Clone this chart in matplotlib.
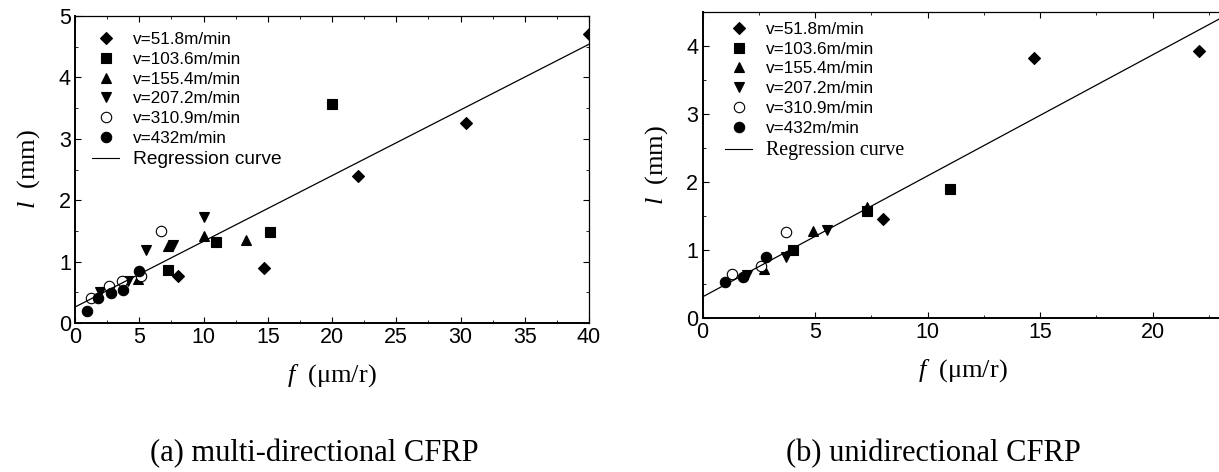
import matplotlib
matplotlib.use("Agg")
import matplotlib.pyplot as plt
from matplotlib.ticker import MultipleLocator
from matplotlib.lines import Line2D

plt.rcParams['font.family'] = ['Liberation Sans', 'DejaVu Sans']
plt.rcParams['mathtext.fontset'] = 'custom'
plt.rcParams['mathtext.rm'] = 'Liberation Serif'
plt.rcParams['mathtext.it'] = 'Liberation Serif:italic'

labels = ["v=51.8m/min", "v=103.6m/min", "v=155.4m/min",
          "v=207.2m/min", "v=310.9m/min", "v=432m/min"]
markers = ["D", "s", "^", "v", "o", "o"]
sizes = [6.3, 7, 7.5, 7.5, 7.5, 7.5]
faces = ["black", "black", "black", "black", "white", "black"]

# (a) multi-directional CFRP: feed f (um/r), length l (mm)
a_f = [
    [7.98, 14.7, 22.0, 30.4, 40.0],
    [7.25, 11.0, 15.2, 20.0],
    [4.92, 7.2, 10.0, 13.3],
    [1.94, 4.14, 5.51, 7.64, 10.0],
    [1.27, 2.64, 3.68, 5.13, 6.66],
    [0.91, 1.81, 2.80, 3.76, 5.0],
]
a_l = [
    [0.77, 0.90, 2.40, 3.25, 4.70],
    [0.87, 1.32, 1.48, 3.56],
    [0.72, 1.26, 1.41, 1.35],
    [0.51, 0.68, 1.19, 1.27, 1.72],
    [0.40, 0.61, 0.69, 0.76, 1.50],
    [0.20, 0.41, 0.49, 0.54, 0.85],
]
a_fit = [0.26, 0.107]   # intercept, slope

# (b) unidirectional CFRP
b_f = [
    [8.03, 14.74, 22.06],
    [4.0, 7.32, 11.0],
    [2.72, 4.89, 7.32],
    [1.96, 3.70, 5.51],
    [1.29, 2.58, 3.69],
    [0.99, 1.78, 2.81],
]
b_l = [
    [1.45, 3.82, 3.93],
    [1.00, 1.58, 1.90],
    [0.72, 1.28, 1.63],
    [0.63, 0.90, 1.29],
    [0.64, 0.77, 1.26],
    [0.53, 0.60, 0.89],
]
b_fit = [0.31, 0.178]


def draw(ax, fx, ly, fit, xmax, ymax, xmaj, reg_font, leg_anchor, right=True):
    for i in range(6):
        ax.plot(fx[i], ly[i], linestyle="none", marker=markers[i],
                markersize=sizes[i], markerfacecolor=faces[i],
                markeredgecolor="black", markeredgewidth=0.8)
    xs = [0, xmax]
    ax.plot(xs, [fit[0] + fit[1] * x for x in xs], color="black", lw=0.9)
    ax.set_xlim(0, xmax)
    ax.set_ylim(0, ymax)
    ax.xaxis.set_major_locator(MultipleLocator(xmaj))
    ax.xaxis.set_minor_locator(MultipleLocator(xmaj / 2))
    ax.yaxis.set_major_locator(MultipleLocator(1))
    ax.yaxis.set_minor_locator(MultipleLocator(0.5))
    ax.tick_params(which="both", direction="in", top=True, right=right,
                   labelsize=15.5, pad=3)
    ax.tick_params(which="major", length=4)
    ax.tick_params(which="minor", length=2.5)
    for s in ["left", "bottom"]:
        ax.spines[s].set_linewidth(1.4)
    for s in ["top", "right"]:
        ax.spines[s].set_linewidth(0.9)
    ax.set_xlabel(r"$f$  ($\mathrm{\mu}$m/r)", fontsize=19,
                  family="Liberation Serif", labelpad=10)
    ax.set_ylabel(r"$l$  (mm)", fontsize=19, family="Liberation Serif",
                  labelpad=12)

    handles = [Line2D([], [], linestyle="none", marker=markers[i],
                      markersize=sizes[i], markerfacecolor=faces[i],
                      markeredgecolor="black", markeredgewidth=0.8)
               for i in range(6)]
    handles.append(Line2D([], [], color="black", lw=0.8))
    leg = ax.legend(handles, labels + ["Regression curve"], loc="upper left",
                    bbox_to_anchor=leg_anchor, frameon=False, fontsize=12.3,
                    labelspacing=0.28, handlelength=1.6, handletextpad=0.8,
                    borderaxespad=0)
    t = leg.get_texts()[-1]
    t.set_fontsize(reg_font[1])
    t.set_family(reg_font[0])


fig = plt.figure(figsize=(12.19, 4.72), dpi=100)
ax1 = fig.add_axes([75 / 1219, 1 - 323 / 472, 514 / 1219, 307 / 472])
ax2 = fig.add_axes([702.5 / 1219, 1 - 318 / 472, 521 / 1219, 306 / 472])

draw(ax1, a_f, a_l, a_fit, 40, 5, 5, ("Liberation Sans", 13.8), (0.02, 0.97))
draw(ax2, b_f, b_l, b_fit, 23.15, 4.5, 5, ("Liberation Serif", 14.4), (0.03, 0.99),
     right=False)

fig.text(314 / 1219, 1 - 454 / 472, "(a) multi-directional CFRP",
         family="Liberation Serif", fontsize=22, ha="center", va="center")
fig.text(933 / 1219, 1 - 454 / 472, "(b) unidirectional CFRP",
         family="Liberation Serif", fontsize=22, ha="center", va="center")

fig.savefig("out.png", dpi=100)
